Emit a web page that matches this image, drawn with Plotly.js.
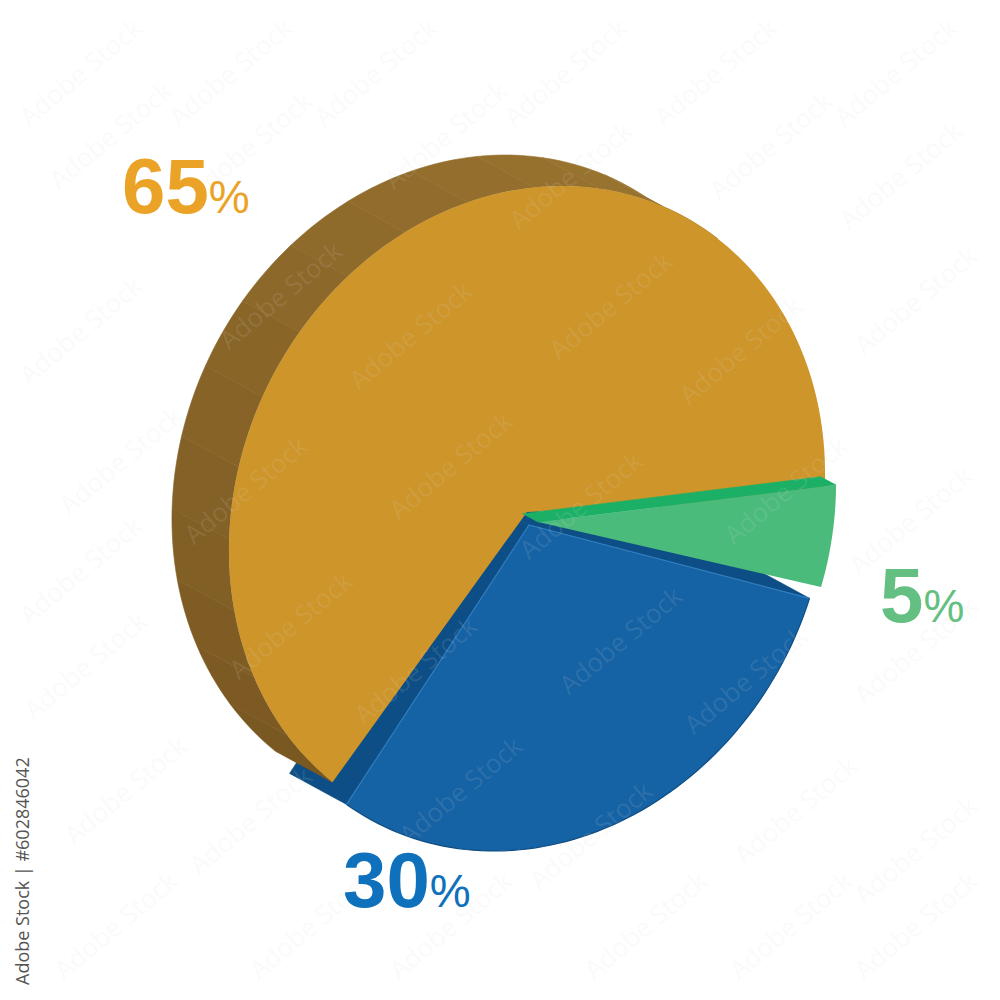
<!DOCTYPE html>
<html><head><meta charset="utf-8">
<script src="https://cdn.plot.ly/plotly-3.0.1.min.js"></script>
<style>html,body{margin:0;padding:0;background:#fff}#c{width:1000px;height:1000px}</style>
</head><body><div id="c"></div>
<script>
const categories = ['Gold','Blue','Green'];
const values = [65, 30, 5];
const tickLabels = ['65','30','5'];
const faceColors = ['#CD952A','#1562A4','#4BBB7B'];
const wallColors = ['#8C682B','#0C4E85','#1BB065'];
const labelColors = ['#EBA327','#0F71BC','#64BF82'];
const wmX = [80,230,375,565,715,895,110,250,445,570,770,900,80,280,410,610,740,915,120,245,450,580,785,910,80,290,415,620,745,915,85,125,250,460,590,795,915,310,115,450,645,790,915];
const wmY = [72,72,72,72,72,72,135,145,135,175,145,175,330,295,335,305,350,300,460,490,465,505,490,520,570,625,670,640,680,650,665,790,820,790,835,810,850,925,925,925,925,925,925];

const RX=296, SKEW=-35, RY=326;
const DEPTH=[-57,-31];
const centres={Gold:[527,512],Blue:[529,525],Green:[538,522]};
const starts={Gold:124,Blue:13,Green:-6.5};
const rad=d=>d*Math.PI/180;
const pt=(c,t)=>[c[0]+RX*Math.cos(rad(t))+SKEW*Math.sin(rad(t)), c[1]+RY*Math.sin(rad(t))];
function arc(c,a,b,n){const r=[];n=n||Math.max(4,Math.ceil(Math.abs(b-a)/1.5));for(let i=0;i<=n;i++)r.push(pt(c,a+(b-a)*i/n));return r;}
const traces=[];
function poly(p,fill,lineW,lineC){
  const x=p.map(q=>q[0]).concat([p[0][0]]), y=p.map(q=>q[1]).concat([p[0][1]]);
  traces.push({type:'scatter',mode:'lines',x,y,fill:'toself',fillcolor:fill,hoverinfo:'skip',
    line:{color:lineC||fill,width:lineW===undefined?0.6:lineW,simplify:false}});
}
function stroke(p,color,w){
  traces.push({type:'scatter',mode:'lines',x:p.map(q=>q[0]),y:p.map(q=>q[1]),hoverinfo:'skip',line:{color,width:w,simplify:false}});
}
const off=(p,v,s)=>[p[0]+v[0]*s,p[1]+v[1]*s];
const sweep=i=>values[i]*3.6;
const iG=0,iB=1,iN=2;
const cG=centres.Gold,cB=centres.Blue,cN=centres.Green;

// blue side walls (behind gold)
const bA=starts.Blue, bZ=bA+sweep(iB);
[bA,bZ].forEach(t=>{const e=pt(cB,t);poly([cB,e,off(e,DEPTH,1),off(cB,DEPTH,1)],wallColors[iB]);});

// gold rim, in shaded facets between the front and back arcs
const gA=starts.Gold, gZ=gA+sweep(iG);
const rimEnd=303, bands=14;
const dark=[122,88,34], light=[155,117,48];
for(let i=0;i<bands;i++){
  const a=gA+(rimEnd-gA)*i/bands, b=gA+(rimEnd-gA)*(i+1)/bands;
  const f=arc(cG,a,b,8), k=i/(bands-1);
  const col=dark.map((v,j)=>Math.round(v+(light[j]-v)*k));
  poly(f.concat(f.slice().reverse().map(q=>off(q,DEPTH,1))),`rgb(${col})`);
}
// gold face
poly([cG].concat(arc(cG,gA,gZ)),faceColors[iG],0);

// green wall + face
const nA=starts.Green,nZ=nA+sweep(iN);
const nE=pt(cN,nA);
poly([cN,nE,off(nE,DEPTH,0.27),off(cN,DEPTH,0.27)],wallColors[iN]);
poly([cN].concat(arc(cN,nA,nZ)),faceColors[iN],0);

// blue face, edge highlight, rim shadow
poly([cB].concat(arc(cB,bA,bZ)),faceColors[iB],0);
stroke([pt(cB,bZ),cB,pt(cB,bA)],'#2F7DBE',1.2);
stroke(arc(cB,bA,bZ),'#0E4C82',1.2);

const anns=[];
wmX.forEach((x,i)=>anns.push({x,y:wmY[i],xref:'x',yref:'y',text:'Adobe Stock',showarrow:false,textangle:-40,
  font:{family:'Open Sans, sans-serif',size:26,color:'rgba(222,222,222,0.12)'}}));
const labelPos=[[120,186],[341,880],[878,595]];
labelPos.forEach((p,i)=>anns.push({x:p[0],y:p[1],xref:'x',yref:'y',xanchor:'left',yanchor:'middle',showarrow:false,
  text:`<b>${tickLabels[i]}</b><span style="font-size:46px">%</span>`,
  font:{family:'Liberation Sans, Arial, sans-serif',size:78,color:labelColors[i]}}));
anns.push({x:22,y:871,xref:'x',yref:'y',text:'Adobe Stock | #602846042',showarrow:false,textangle:-90,
  font:{family:'Open Sans, sans-serif',size:18,color:'#555555'}});

const hidden={visible:false,fixedrange:true};
Plotly.newPlot('c',traces,{
  width:1000,height:1000,margin:{l:0,r:0,t:0,b:0},showlegend:false,
  paper_bgcolor:'#fff',plot_bgcolor:'#fff',
  xaxis:Object.assign({range:[0,1000]},hidden),
  yaxis:Object.assign({range:[1000,0]},hidden),
  annotations:anns
},{staticPlot:true,displayModeBar:false});
</script></body></html>
